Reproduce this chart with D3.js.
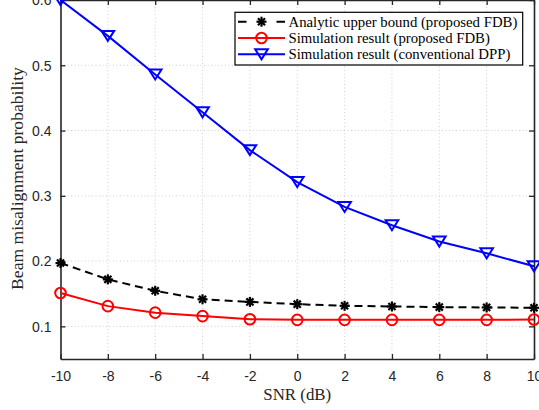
<!DOCTYPE html>
<html><head><meta charset="utf-8">
<script src="https://cdn.jsdelivr.net/npm/d3@7"></script>
<style>html,body{margin:0;padding:0;background:#fff;overflow:hidden}</style>
</head><body>
<svg id="chart" width="539" height="410"></svg>
<script>
const snr = [-10, -8, -6, -4, -2, 0, 2, 4, 6, 8, 10];
const upperBound = [0.197, 0.172, 0.1545, 0.1415, 0.1375, 0.134, 0.1315, 0.1305, 0.1295, 0.129, 0.1285];
const simFDB = [0.151, 0.131, 0.121, 0.1157, 0.111, 0.110, 0.110, 0.110, 0.110, 0.110, 0.1105];
const simDPP = [0.600, 0.545, 0.486, 0.428, 0.370, 0.321, 0.283, 0.255, 0.230, 0.212, 0.192];
const xTicks = [-10, -8, -6, -4, -2, 0, 2, 4, 6, 8, 10];
const yTicks = [0.1, 0.2, 0.3, 0.4, 0.5, 0.6];
const legendLabels = ["Analytic upper bound (proposed FDB)", "Simulation result (proposed FDB)", "Simulation result (conventional DPP)"];
const xLabel = "SNR (dB)";
const yLabel = "Beam misalignment probability";

const svg = d3.select("#chart");
const L = 60.5, R = 534, T = 0, B = 359;
const x = d3.scaleLinear().domain([-10, 10]).range([L, R]);
const y = d3.scaleLinear().domain([0.05, 0.6]).range([B, T]);
const axisColor = "#262626";
const serif = "'Liberation Serif', 'DejaVu Serif', serif";
const sans = "'Liberation Sans', Arial, sans-serif";

// grid
const g = svg.append("g");
g.selectAll(".gx").data(xTicks.slice(1, -1)).join("line")
  .attr("x1", d => x(d)).attr("x2", d => x(d)).attr("y1", T).attr("y2", B)
  .attr("stroke", "#cfcfcf").attr("stroke-width", 1).attr("stroke-dasharray", "1,2.5");
g.selectAll(".gy").data(yTicks.filter(v => v < 0.6)).join("line")
  .attr("x1", L).attr("x2", R).attr("y1", d => y(d)).attr("y2", d => y(d))
  .attr("stroke", "#cfcfcf").attr("stroke-width", 1).attr("stroke-dasharray", "1,2.5");

// axes
const xAxisB = d3.axisBottom(x).tickValues(xTicks).tickSizeInner(-5).tickSizeOuter(0).tickPadding(12).tickFormat(d => String(d));
const xAxisT = d3.axisTop(x).tickValues(xTicks).tickSizeInner(-5).tickSizeOuter(0).tickFormat("");
const yAxisL = d3.axisLeft(y).tickValues(yTicks).tickSizeInner(-5).tickSizeOuter(0).tickPadding(9).tickFormat(d => d.toFixed(1));
const yAxisR = d3.axisRight(y).tickValues(yTicks).tickSizeInner(-5).tickSizeOuter(0).tickFormat("");
function styleAxis(sel) {
  sel.selectAll("path.domain").attr("stroke", axisColor).attr("stroke-width", 1.6);
  sel.selectAll(".tick line").attr("stroke", axisColor).attr("stroke-width", 1.3);
  sel.selectAll("text").attr("fill", axisColor).style("font-family", sans).style("font-size", "14px");
}
svg.append("g").attr("transform", `translate(0,${B})`).call(xAxisB).call(styleAxis);
svg.append("g").attr("transform", `translate(0,${T})`).call(xAxisT).call(styleAxis);
svg.append("g").attr("transform", `translate(${L},0)`).call(yAxisL).call(styleAxis);
svg.append("g").attr("transform", `translate(${R},0)`).call(yAxisR).call(styleAxis);
svg.selectAll(".tick text").each(function(){
  const t = d3.select(this);
  if (t.attr("y") && +t.attr("y") > 0) t.attr("dy", "0.71em");
  else t.attr("dy", "0.35em");
});

// axis labels
function fitFont(sel, target, base) {
  sel.style("font-size", base + "px");
  const w = sel.node().getComputedTextLength();
  sel.style("font-size", (base * target / w) + "px");
}
const xl = svg.append("text").attr("x", (L + R) / 2).attr("y", 400).attr("text-anchor", "middle")
  .style("font-family", serif).attr("fill", axisColor).text(xLabel);
fitFont(xl, 68, 15);
const yl = svg.append("text").attr("transform", `translate(23,178.5) rotate(-90)`).attr("text-anchor", "middle")
  .style("font-family", serif).attr("fill", axisColor).text(yLabel);
fitFont(yl, 223, 15);

// markers
function asterisk(sel, cx, cy, r) {
  const gg = sel.append("g").attr("transform", `translate(${cx},${cy})`);
  [0, 45, 90, 135].forEach(a => {
    const rad = a * Math.PI / 180;
    gg.append("line").attr("x1", -r * Math.cos(rad)).attr("y1", -r * Math.sin(rad))
      .attr("x2", r * Math.cos(rad)).attr("y2", r * Math.sin(rad))
      .attr("stroke", "#000").attr("stroke-width", 2.2);
  });
}
function circle(sel, cx, cy) {
  sel.append("circle").attr("cx", cx).attr("cy", cy).attr("r", 5.3)
    .attr("fill", "none").attr("stroke", "#ff0000").attr("stroke-width", 2);
}
function tri(sel, cx, cy) {
  const w = 6.3, h = 5;
  sel.append("path").attr("d", `M${cx - w},${cy - h}L${cx + w},${cy - h}L${cx},${cy + h}Z`)
    .attr("fill", "none").attr("stroke", "#0000ff").attr("stroke-width", 2).attr("stroke-linejoin", "miter");
}

const line = d3.line().x(d => x(d[0])).y(d => y(d[1]));
const dUB = snr.map((s, i) => [s, upperBound[i]]);
const dFDB = snr.map((s, i) => [s, simFDB[i]]);
const dDPP = snr.map((s, i) => [s, simDPP[i]]);

const data = svg.append("g");
data.append("path").datum(dDPP).attr("d", line).attr("fill", "none").attr("stroke", "#0000ff").attr("stroke-width", 2);
dDPP.forEach(d => tri(data, x(d[0]), y(d[1])));
data.append("path").datum(dFDB).attr("d", line).attr("fill", "none").attr("stroke", "#ff0000").attr("stroke-width", 2);
dFDB.forEach(d => circle(data, x(d[0]), y(d[1])));
data.append("path").datum(dUB).attr("d", line).attr("fill", "none").attr("stroke", "#000").attr("stroke-width", 2).attr("stroke-dasharray", "8,5");
dUB.forEach(d => asterisk(data, x(d[0]), y(d[1]), 5));

// legend
const lg = svg.append("g");
lg.append("rect").attr("x", 235).attr("y", 12.3).attr("width", 287.7).attr("height", 52.7)
  .attr("fill", "#fff").attr("stroke", "#000").attr("stroke-width", 1.2);
const rows = [21.7, 38, 54.3];
lg.append("line").attr("x1", 238).attr("x2", 285).attr("y1", rows[0]).attr("y2", rows[0])
  .attr("stroke", "#000").attr("stroke-width", 2).attr("stroke-dasharray", "8.5,30");
asterisk(lg, 261.5, rows[0], 5);
lg.append("line").attr("x1", 238).attr("x2", 285).attr("y1", rows[1]).attr("y2", rows[1])
  .attr("stroke", "#ff0000").attr("stroke-width", 2);
circle(lg, 261.5, rows[1]);
lg.append("line").attr("x1", 238).attr("x2", 285).attr("y1", rows[2]).attr("y2", rows[2])
  .attr("stroke", "#0000ff").attr("stroke-width", 2);
tri(lg, 261.5, rows[2]);
const lt = lg.selectAll(".lt").data(legendLabels).join("text")
  .attr("x", 288.5).attr("y", (d, i) => rows[i]).attr("dy", "0.33em")
  .style("font-family", serif).attr("fill", "#000").text(d => d);
const first = d3.select(lt.nodes()[0]);
first.style("font-size", "14px");
const w0 = first.node().getComputedTextLength();
lt.style("font-size", (14 * 229 / w0) + "px");
</script>
</body></html>
